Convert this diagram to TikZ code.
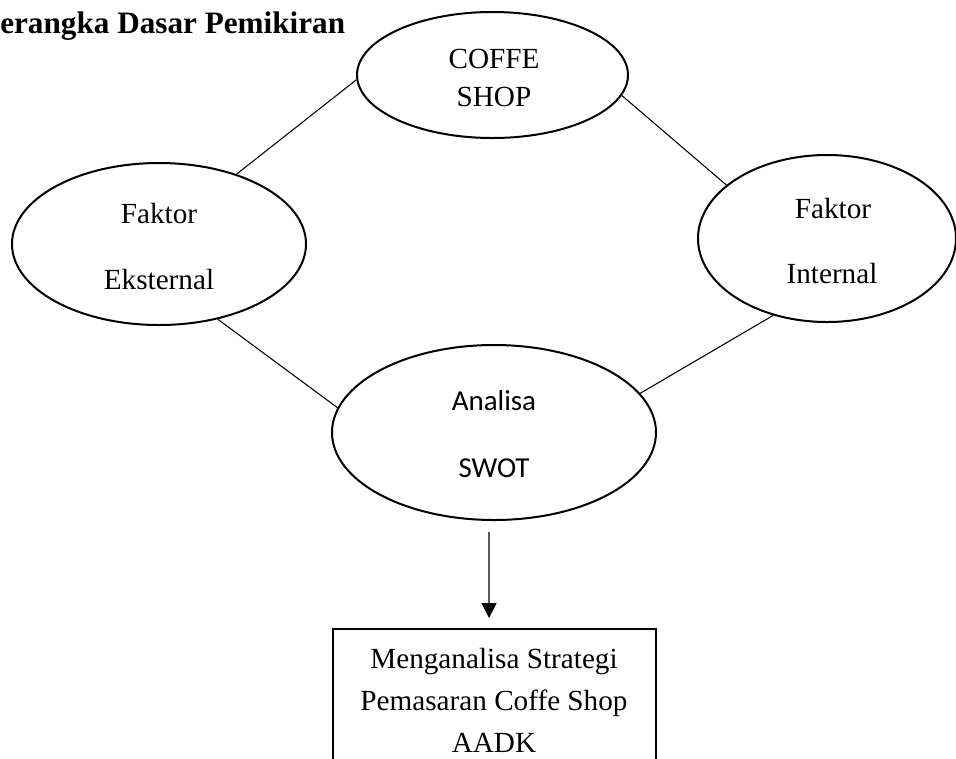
\documentclass[tikz,border=0pt]{standalone}
\usepackage{fontspec}
\setmainfont{Liberation Serif}
\newfontfamily\calfont{Carlito}
\usetikzlibrary{shapes.geometric,arrows.meta}
\begin{document}
\begin{tikzpicture}[x=0.75pt,y=-0.75pt,
  oval/.style={draw, ellipse, line width=1.5pt, inner sep=0pt},
  link/.style={draw, line width=0.8pt},
  flow/.style={draw, line width=1pt, -{Triangle[length=11.25pt,width=11.25pt]}},
  lbl/.style={anchor=base, inner sep=0pt, font=\fontsize{21.9}{26}\selectfont},
  clbl/.style={anchor=base, inner sep=0pt, font=\calfont\fontsize{21.7}{26}\selectfont},
  resbox/.style={draw, rectangle, line width=1.5pt, inner sep=0pt}]
\useasboundingbox (0,0) rectangle (956,758);

% title
\node[anchor=base west, inner sep=0pt, font=\bfseries\fontsize{23.4}{28}\selectfont] (title) at (0,33) {erangka Dasar Pemikiran};

% ellipses
\node[oval, minimum width=203.25pt, minimum height=94.5pt] (coffe) at (492.5,75) {};
\node[oval, minimum width=220.5pt, minimum height=121.5pt] (eks) at (159,244) {};
\node[oval, minimum width=193.5pt, minimum height=125.25pt] (int) at (827,238.5) {};
\node[oval, minimum width=243pt, minimum height=131.25pt] (swot) at (494,432.5) {};

% result box
\node[resbox, minimum width=242.25pt, minimum height=112.5pt] (box) at (494.5,704) {};

% texts
\node[lbl] (t1) at (494,68) {COFFE};
\node[lbl] (t2) at (494,106) {SHOP};
\node[lbl] (t3) at (159,223) {Faktor};
\node[lbl] (t4) at (159,289) {Eksternal};
\node[lbl] (t5) at (833,218) {Faktor};
\node[lbl] (t6) at (832,283) {Internal};
\node[clbl] (t7) at (494,410) {Analisa};
\node[clbl] (t8) at (494,477) {SWOT};
\node[lbl] (t9) at (494,668) {Menganalisa Strategi};
\node[lbl] (t10) at (494,710) {Pemasaran Coffe Shop};
\node[lbl] (t11) at (494,752) {AADK};

% connectors
\draw[link] (coffe.182) -- (eks.42);
\draw[link] (coffe.-9) -- (int.152);
\draw[link] (eks.-52) -- (swot.171);
\draw[link] (int.235) -- (swot.15);
\draw[flow, shorten <=8.25pt, shorten >=7.5pt] ([xshift=-3.75pt]swot.south) -- ([xshift=-4.1pt]box.north);
\end{tikzpicture}
\end{document}
